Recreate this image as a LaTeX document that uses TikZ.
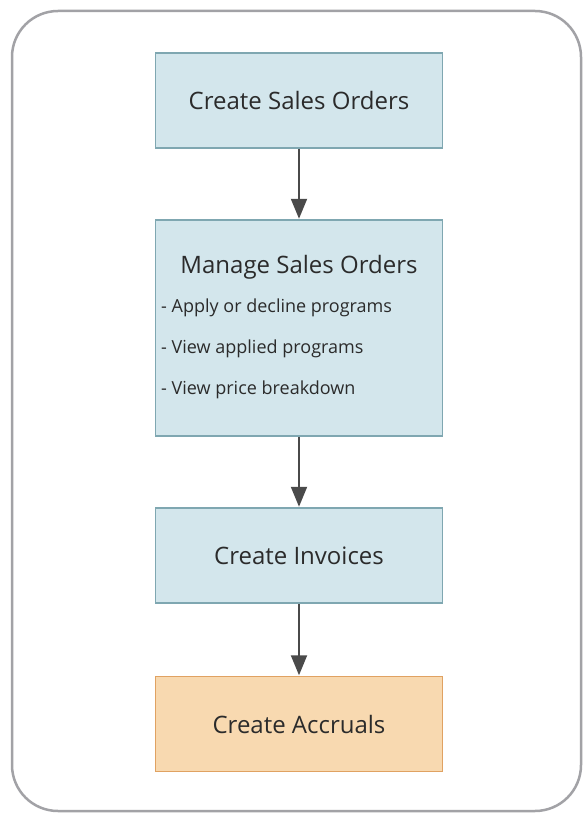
\documentclass[tikz,border=0pt]{standalone}
\usepackage{fontspec}
\setmainfont{Open Sans}
\usetikzlibrary{arrows.meta}
\definecolor{frame}{HTML}{A2A2A6}
\definecolor{bluefill}{HTML}{D3E6EC}
\definecolor{blueline}{HTML}{7FA7B1}
\definecolor{orfill}{HTML}{F8D9B0}
\definecolor{orline}{HTML}{E0A262}
\definecolor{arrowc}{HTML}{4A4A4A}
\definecolor{txt}{HTML}{2B2B2B}
\begin{document}
\begin{tikzpicture}[x=1pt,y=-1pt,
  stepbox/.style={draw=blueline,fill=bluefill,line width=1.5pt,minimum width=287pt,minimum height=95pt,inner sep=0pt,text=txt,font=\fontsize{24}{28}\selectfont},
  accbox/.style={stepbox,draw=orline,fill=orfill},
  flow/.style={draw=arrowc,line width=2pt,-{Triangle[length=20pt,width=16pt]},shorten >=0.5pt},
  item/.style={anchor=west,inner sep=0pt,text=txt,font=\fontsize{18}{21}\selectfont}]
\useasboundingbox (0,0) rectangle (583,813);
\fill[white] (0,0) rectangle (583,813);
\draw[frame,line width=2.5pt,rounded corners=46pt] (12,11) rectangle (581,811);
\node[stepbox] (cso) at (299,100.5) {Create Sales Orders};
\node[stepbox,minimum height=216pt] (mso) at (299,328) {};
\node[inner sep=0pt,text=txt,font=\fontsize{24}{28}\selectfont] (msot) at (299,267) {Manage Sales Orders};
\node[item] (i1) at (161,308) {- Apply or decline programs};
\node[item] (i2) at (161,349) {- View applied programs};
\node[item] (i3) at (161,390) {- View price breakdown};
\node[stepbox] (ci) at (299,555.5) {Create Invoices};
\node[accbox] (ca) at (299,724) {Create Accruals};
\draw[flow] (cso) -- (mso);
\draw[flow] (mso) -- (ci);
\draw[flow] (ci) -- (ca);
\end{tikzpicture}
\end{document}
